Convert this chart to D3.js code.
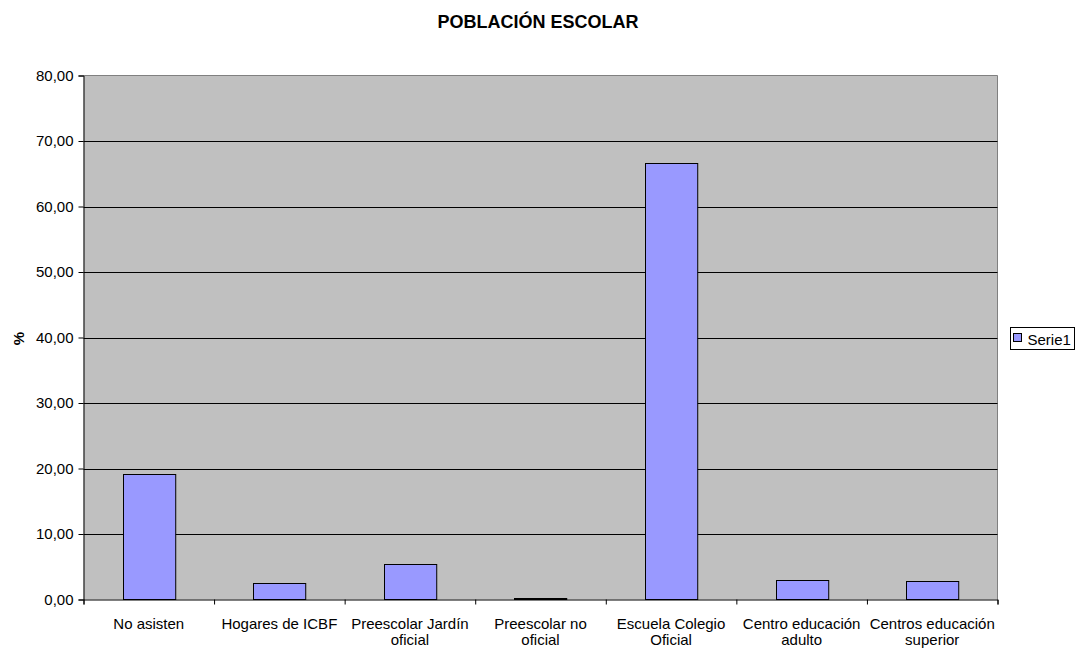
<!DOCTYPE html>
<html><head><meta charset="utf-8">
<script src="https://cdn.jsdelivr.net/npm/d3@7"></script>
<style>body{margin:0;background:#fff;} svg{display:block;font-family:"Liberation Sans",Arial,sans-serif;}</style>
</head><body>
<svg id="c" width="1077" height="650"></svg>
<script>
const categories = [["No asisten"],["Hogares de ICBF"],["Preescolar Jardín","oficial"],["Preescolar no","oficial"],["Escuela Colegio","Oficial"],["Centro educación","adulto"],["Centros educación","superior"]];
const values = [19.16, 2.57, 5.47, 0.25, 66.64, 2.98, 2.82];
const yTicks = [0,10,20,30,40,50,60,70,80];
const seriesName = "Serie1";
const title = "POBLACIÓN ESCOLAR";
const yLabel = "%";

const svg = d3.select("#c");
const L = 83.5, R = 997.5, T = 75.5, B = 599.5;
const x = d3.scaleBand().domain(d3.range(categories.length)).range([L, R]).paddingInner(0.6).paddingOuter(0.3);
const xb = d3.scaleLinear().domain([0, categories.length]).range([L, R]);
const y = d3.scaleLinear().domain([0, 80]).range([B, T]);

svg.append("rect").attr("x", L).attr("y", T).attr("width", R - L).attr("height", B - T).attr("fill", "#c0c0c0");
svg.append("path").attr("d", `M${L},${T}H${R}V${B}`).attr("fill","none").attr("stroke","#808080").attr("stroke-width",1);

svg.selectAll("line.grid").data(yTicks.filter(d => d > 0 && d < 80)).enter().append("line")
  .attr("x1", L).attr("x2", R).attr("y1", d => Math.round(y(d)) + 0.5).attr("y2", d => Math.round(y(d)) + 0.5)
  .attr("stroke", "#000").attr("stroke-width", 1);

svg.selectAll("rect.bar").data(values).enter().append("rect")
  .attr("x", (d, i) => Math.round(x(i)) + 0.5).attr("width", x.bandwidth())
  .attr("y", d => Math.round(y(d)) + 0.5).attr("height", d => B - Math.round(y(d)) - 0.5)
  .attr("fill", "#9999ff").attr("stroke", "#000").attr("stroke-width", 1);

// y axis
const yAxis = svg.append("g").attr("transform", `translate(${L},0)`)
  .call(d3.axisLeft(y).tickValues(yTicks).tickSize(5).tickPadding(5).tickFormat(d => d3.format(".2f")(d).replace(".", ",")));
yAxis.select(".domain").attr("stroke", "#000");
yAxis.selectAll("text").attr("font-size", 15).attr("fill", "#000").attr("font-family", "Liberation Sans, Arial, sans-serif");

// x axis
const xAxis = svg.append("g").attr("transform", `translate(0,${B})`)
  .call(d3.axisBottom(xb).tickValues(d3.range(categories.length + 1)).tickSize(5).tickFormat(""));
xAxis.select(".domain").attr("stroke", "#000");

const lab = svg.append("g").attr("font-size", 15).attr("text-anchor", "middle").attr("fill", "#000");
categories.forEach((c, i) => {
  const cx = x(i) + x.bandwidth() / 2;
  const t = lab.append("text").attr("x", cx).attr("y", 628.5);
  c.forEach((s, j) => t.append("tspan").attr("x", cx).attr("dy", j ? 16.5 : 0).text(s));
});

svg.append("text").attr("x", 538).attr("y", 28).attr("text-anchor", "middle").attr("font-weight", "bold").attr("font-size", 18).text(title);
svg.append("text").attr("transform", "translate(23.5,338.5) rotate(-90)").attr("text-anchor", "middle").attr("font-weight", "bold").attr("font-size", 15).text(yLabel);

// legend
const lg = svg.append("g");
lg.append("rect").attr("x", 1010.5).attr("y", 327.5).attr("width", 64).attr("height", 22).attr("fill", "#fff").attr("stroke", "#000");
lg.append("rect").attr("x", 1013.5).attr("y", 333.5).attr("width", 8).attr("height", 8).attr("fill", "#9999ff").attr("stroke", "#000");
lg.append("text").attr("x", 1027.5).attr("y", 344.5).attr("font-size", 15).text(seriesName);
</script>
</body></html>
